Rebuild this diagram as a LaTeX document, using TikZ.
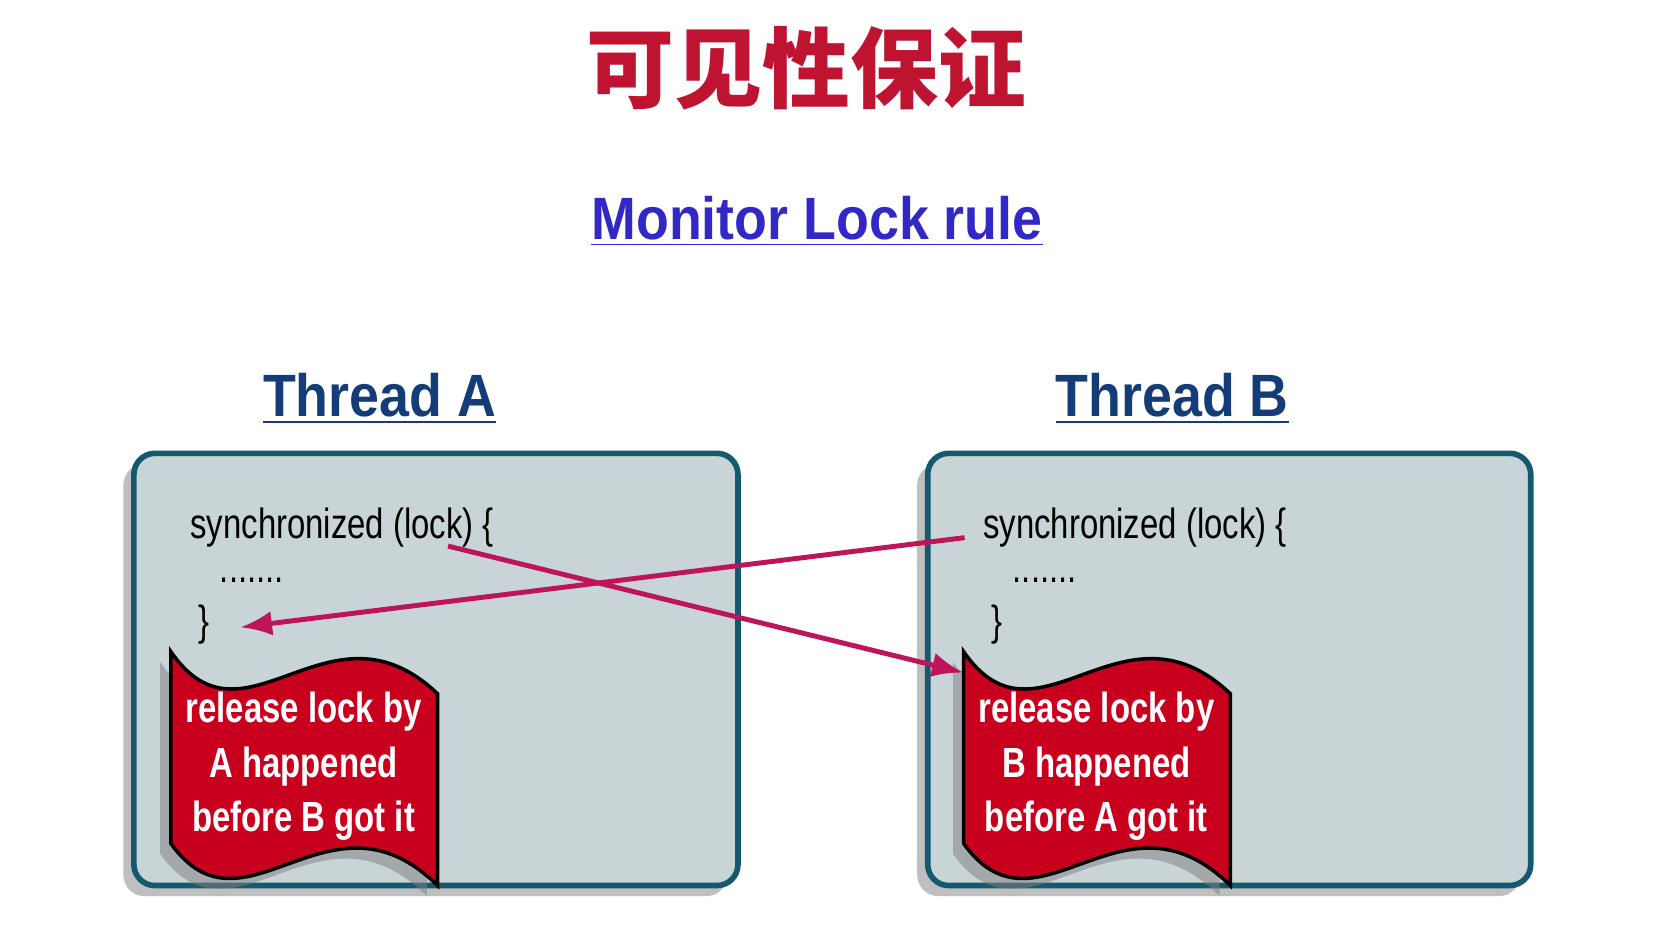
\documentclass[tikz,border=0pt]{standalone}
\usepackage{fontspec}
\setmainfont{Liberation Sans}
\newfontfamily\cjk{Noto Sans CJK SC}
\newfontfamily\narrow[FakeStretch=0.78]{Liberation Sans}
\newfontfamily\headfont[FakeStretch=0.9]{Liberation Sans}
\usetikzlibrary{shadows,arrows.meta}

\definecolor{titlered}{RGB}{190,20,50}
\definecolor{rulblue}{RGB}{50,40,200}
\definecolor{thrblue}{RGB}{20,60,120}
\definecolor{boxfill}{RGB}{200,212,214}
\definecolor{boxline}{RGB}{20,90,110}
\definecolor{flagred}{RGB}{200,0,30}
\definecolor{arrowpink}{RGB}{190,20,90}

\tikzset{
  threadbox/.style={draw=boxline, line width=1.6pt, fill=boxfill, rounded corners=6pt, drop shadow={shadow xshift=-3pt, shadow yshift=-3pt, opacity=0.5}},
  flag/.style={draw=black, line width=1pt, fill=flagred, drop shadow={shadow xshift=-3pt, shadow yshift=-3pt, opacity=0.5}},
  code/.style={anchor=west, inner sep=0pt, font=\narrow\fontsize{12}{14}\selectfont},
  flagtext/.style={align=center, text=white, font=\narrow\bfseries\fontsize{12}{15.5}\selectfont},
  thread/.style={text=thrblue, font=\headfont\bfseries\fontsize{17}{20}\selectfont},
  link/.style={arrowpink, line width=1.4pt, -{Latex[length=9pt,width=7pt]}}
}

\begin{document}
\begin{tikzpicture}[x=0.01054cm, y=-0.01054cm]
\useasboundingbox (0,0) rectangle (1568,901);

% Titles
\node (title) at (765,65) {\cjk\bfseries\fontsize{25}{28}\selectfont\textcolor{titlered}{可见性保证}};
\node (rule) at (775,210) {\headfont\bfseries\fontsize{17}{20}\selectfont\textcolor{rulblue}{\underline{Monitor Lock rule}}};
\node[thread] (ta) at (360,378) {\underline{Thread A}};
\node[thread] (tb) at (1112,378) {\underline{Thread B}};

% Thread A
\draw[threadbox] (127,430) rectangle (700,840);
\node[code] (syncA) at (180,500) {synchronized (lock) \{};
\node[code] (dotsA) at (208,550) {.......};
\node[code] (closeA) at (188,592) {\}};
\draw[flag] (162,618) .. controls (232,720) and (312,560) .. (415,658) -- (415,840)
  .. controls (312,738) and (232,898) .. (162,800) -- cycle;
\node[flagtext] (relA) at (288,727) {release lock by\\A happened\\before B got it};

% Thread B
\draw[threadbox] (880,430) rectangle (1452,840);
\node[code] (syncB) at (932,500) {synchronized (lock) \{};
\node[code] (dotsB) at (960,550) {.......};
\node[code] (closeB) at (940,592) {\}};
\draw[flag] (914,618) .. controls (984,720) and (1064,560) .. (1167,658) -- (1167,840)
  .. controls (1064,738) and (984,898) .. (914,800) -- cycle;
\node[flagtext] (relB) at (1040,727) {release lock by\\B happened\\before A got it};

% Links
\coordinate (lockA) at (425,518);
\coordinate (flagB) at (914,638);
\coordinate (endA) at (228,595);
\coordinate (startB) at (915,510);
\draw[link] (lockA) -- (flagB);
\draw[link] (startB) -- (endA);

\end{tikzpicture}
\end{document}
